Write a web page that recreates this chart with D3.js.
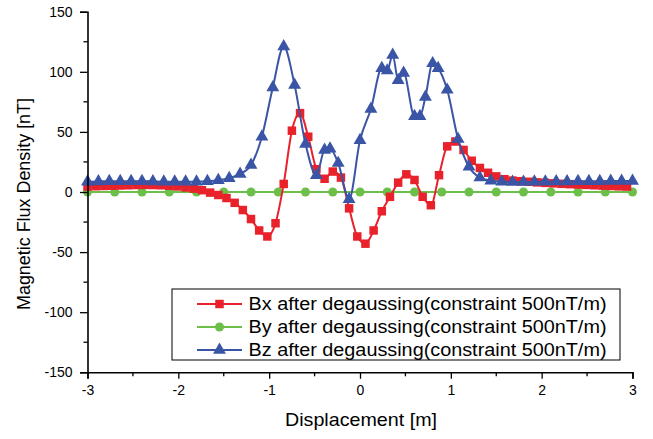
<!DOCTYPE html>
<html><head><meta charset="utf-8">
<script src="https://cdn.jsdelivr.net/npm/d3@7"></script>
<style>body{margin:0;background:#fff}svg{display:block}text{font-family:"Liberation Sans",Arial,sans-serif}</style>
</head><body><svg id="c" width="653" height="439"></svg>
<script>
const bxX=[-3.00,-2.91,-2.82,-2.73,-2.64,-2.55,-2.46,-2.37,-2.28,-2.19,-2.10,-2.01,-1.92,-1.83,-1.74,-1.65,-1.56,-1.47,-1.38,-1.29,-1.20,-1.11,-1.02,-0.93,-0.84,-0.75,-0.66,-0.57,-0.48,-0.39,-0.30,-0.21,-0.12,-0.03,0.06,0.15,0.24,0.33,0.42,0.51,0.60,0.69,0.78,0.87,0.96,1.05,1.14,1.23,1.32,1.41,1.50,1.59,1.68,1.77,1.86,1.95,2.04,2.13,2.22,2.31,2.40,2.49,2.58,2.67,2.76,2.85,2.94];
const bxY=[4.5,4.8,5.0,5.2,5.4,5.6,5.8,5.9,5.8,5.6,5.2,4.6,3.8,2.8,1.5,-0.5,-2.5,-5,-9,-15,-22.5,-32,-37,-26,6.7,51,65.6,46,19,11,17,12,-13.6,-37,-43,-32,-16,-4,7.8,14.7,10,-4,-11,14,38,42,35,26,20,16,13,10.6,9.5,9,8.5,8,7.6,7.2,6.8,6.5,6.2,5.9,5.6,5.3,5,4.7,4.5];
const byX=[-3,-2.7,-2.4,-2.1,-1.8,-1.5,-1.2,-0.9,-0.6,-0.3,0,0.3,0.6,0.9,1.2,1.5,1.8,2.1,2.4,2.7,3];
const byY=[0,0,0,0,0,0,0,0,0,0,0,0,0,0,0,0,0,0,0,0,0];
const bzX=[-3.00,-2.88,-2.76,-2.64,-2.52,-2.40,-2.28,-2.16,-2.04,-1.92,-1.80,-1.68,-1.56,-1.44,-1.32,-1.20,-1.08,-0.96,-0.84,-0.72,-0.60,-0.48,-0.39,-0.33,-0.24,-0.12,0.00,0.12,0.24,0.30,0.36,0.42,0.48,0.60,0.66,0.72,0.80,0.86,0.96,1.08,1.20,1.32,1.44,1.56,1.68,1.80,1.92,2.04,2.16,2.28,2.40,2.52,2.64,2.76,2.88,3.00];
const bzY=[8.5,8.8,9,9,9,9,8.8,8.5,8.5,8.5,8.6,9,9.8,11.5,15,22.5,46,87,121,89,40,14,35,36,24,-6,43,69,103,101,114,93,99,63,63,79,107,103,85,44,21,12,9.4,8.6,8.3,8.3,8.5,8.6,8.7,8.8,8.9,9,9,9.1,9.2,9.2];
const xTicks=[-3,-2,-1,0,1,2,3];
const xMinorTicks=[-2.5,-1.5,-0.5,0.5,1.5,2.5];
const yTicks=[-150,-100,-50,0,50,100,150];
const yMinorTicks=[-125,-75,-25,25,75,125];
const names=["Bx after degaussing(constraint 500nT/m)","By after degaussing(constraint 500nT/m)","Bz after degaussing(constraint 500nT/m)"];
const colors=["#e8212b","#6cc04a","#3a55a5"];

const svg=d3.select("#c");
const x=d3.scaleLinear().domain([-3,3]).range([87.5,632.5]);
const y=d3.scaleLinear().domain([-150,150]).range([372.3,11.7]);

const series=[
 {xs:bxX,ys:bxY,sym:d3.symbolSquare,size:72},
 {xs:byX,ys:byY,sym:d3.symbolCircle,size:64},
 {xs:bzX,ys:bzY,sym:d3.symbolTriangle,size:72}
];
const line=d3.line().x(d=>x(d[0])).y(d=>y(d[1])).curve(d3.curveMonotoneX);
[1,0,2].forEach(i=>{
  const s=series[i];
  const pts=s.xs.map((v,j)=>[v,s.ys[j]]);
  svg.append("path").attr("d",line(pts)).attr("fill","none").attr("stroke",colors[i]).attr("stroke-width",2);
  svg.append("g").selectAll("path").data(pts).join("path")
    .attr("d",d3.symbol().type(s.sym).size(s.size))
    .attr("transform",d=>`translate(${x(d[0])},${y(d[1])})`)
    .attr("fill",colors[i]);
});

// axes
const fmt=d=>String(d);
const gx=svg.append("g").attr("transform",`translate(0,${y(-150)})`)
  .call(d3.axisBottom(x).tickValues(xTicks).tickSize(6.5).tickPadding(6).tickFormat(fmt));
gx.selectAll(".minor").data(xMinorTicks).join("line").attr("class","minor")
  .attr("x1",d=>x(d)).attr("x2",d=>x(d)).attr("y1",0).attr("y2",4).attr("stroke","#000").attr("stroke-width",1.3);
const gy=svg.append("g").attr("transform",`translate(${x(-3)},0)`)
  .call(d3.axisLeft(y).tickValues(yTicks).tickSize(7.5).tickPadding(7.5).tickFormat(fmt));
gy.selectAll(".minor").data(yMinorTicks).join("line").attr("class","minor")
  .attr("y1",d=>y(d)).attr("y2",d=>y(d)).attr("x1",0).attr("x2",-4).attr("stroke","#000").attr("stroke-width",1.3);
[gx,gy].forEach(g=>{
  g.select(".domain").attr("stroke","#000").attr("stroke-width",1.6);
  g.selectAll(".tick line").attr("stroke","#000").attr("stroke-width",1.3);
  g.selectAll(".tick text").attr("fill","#000").style("font-size","14px").style("font-family","'Liberation Sans',Arial,sans-serif");
});

svg.append("text").attr("x",361).attr("y",425.5).attr("text-anchor","middle").style("font-size","18.5px")
  .attr("textLength",152).attr("lengthAdjust","spacingAndGlyphs").text("Displacement [m]");
svg.append("text").attr("transform","translate(30,204) rotate(-90)").attr("text-anchor","middle").style("font-size","18px")
  .attr("textLength",212).attr("lengthAdjust","spacingAndGlyphs").text("Magnetic Flux Density [nT]");

// legend
const lg=svg.append("g");
lg.append("rect").attr("x",172).attr("y",289).attr("width",448).attr("height",71).attr("fill","#fff").attr("stroke","#000").attr("stroke-width",1);
[0,1,2].forEach(i=>{
  const yy=304+i*23;
  lg.append("line").attr("x1",197).attr("x2",242).attr("y1",yy).attr("y2",yy).attr("stroke",colors[i]).attr("stroke-width",2);
  lg.append("path").attr("d",d3.symbol().type(series[i].sym).size(series[i].size)).attr("transform",`translate(219.5,${yy})`).attr("fill",colors[i]);
  lg.append("text").attr("x",248.5).attr("y",yy+5.8).style("font-size","17.5px")
    .attr("textLength",358).attr("lengthAdjust","spacingAndGlyphs").text(names[i]);
});
</script></body></html>
